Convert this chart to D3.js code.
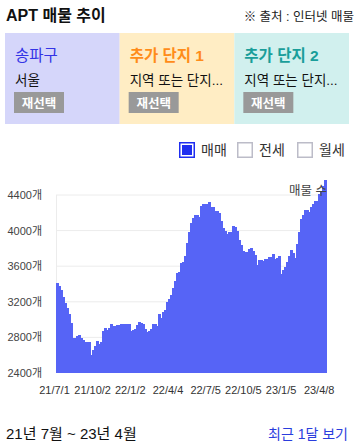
<!DOCTYPE html>
<html><head><meta charset="utf-8">
<script src="https://cdn.jsdelivr.net/npm/d3@7"></script>
<style>
body{margin:0;background:#fff;font-family:"Liberation Sans","Noto Sans CJK KR",sans-serif;}
svg{display:block;}
</style></head>
<body>
<svg id="c" width="358" height="447"></svg>
<script>
// ---- data ----
const startDate = new Date(2021, 6, 1);
const endDate = new Date(2023, 3, 21);
const listingCounts = [
 3410,3377,3330,3250,3190,3130,3068,2960,2788,2796,2815,2830,2796,2770,2750,2750,2750,2601,2657,2700,
 2760,2730,2750,2870,2911,2886,2911,2950,2930,2930,2940,2940,2945,2950,2945,2950,2945,2873,2880,2900,
 2940,2974,2960,2951,2895,2858,2873,2900,2950,2950,2930,3060,3023,3086,3113,3198,3235,3280,3354,3430,
 3518,3540,3633,3650,3718,3860,3980,4090,4143,4180,4180,4158,4280,4302,4302,4302,4325,4262,4262,4224,
 4224,4194,4105,4030,4000,3963,3986,3986,4053,4045,4000,3896,3843,3769,3760,3758,3790,3806,3770,3731,
 3608,3665,3672,3657,3683,3683,3702,3702,3732,3683,3694,3709,3515,3560,3590,3646,3720,3784,3746,3694,
 3850,3989,4131,4180,4232,4232,4206,4269,4299,4329,4329,4411,4448,4504,4571
];
const yTicks = [2400, 2800, 3200, 3600, 4000, 4400];
const xTickDates = [
 new Date(2021,6,1), new Date(2021,9,2), new Date(2022,0,2), new Date(2022,3,4),
 new Date(2022,6,5), new Date(2022,9,5), new Date(2023,0,5), new Date(2023,3,8)
];
const panelTitles = ["송파구", "추가 단지 1", "추가 단지 2"];
const panelSubs = ["서울", "지역 또는 단지...", "지역 또는 단지..."];
const panelFills = ["#d5d6fa", "#ffedc4", "#d1f0ee"];
const panelTitleColors = ["#3434e6", "#ff8c1a", "#1a9e9a"];
const legendLabels = ["매매", "전세", "월세"];

// ---- derived dates ----
const stepMs = (endDate - startDate) / listingCounts.length;
const data = listingCounts.map((v, i) => ({ d0: new Date(+startDate + i * stepMs), d1: new Date(+startDate + (i + 1) * stepMs), v }));

const svg = d3.select("#c");
const font = '"Liberation Sans","Noto Sans CJK KR",sans-serif';

// header
svg.append("text").attr("x", 6).attr("y", 21).attr("font-size", 16).attr("font-weight", "bold")
  .attr("fill", "#111").attr("font-family", font).text("APT 매물 추이");
svg.append("text").attr("x", 354).attr("y", 21).attr("text-anchor", "end").attr("font-size", 12.5)
  .attr("fill", "#222").attr("font-family", font).text("※ 출처 : 인터넷 매물");

// panels
const px = d3.scaleBand().domain(d3.range(3)).range([5, 349]);
const pg = svg.selectAll("g.panel").data(panelTitles).enter().append("g")
  .attr("transform", (d, i) => `translate(${px(i)},33)`);
pg.append("rect").attr("width", px.bandwidth()).attr("height", 91).attr("fill", (d, i) => panelFills[i]);
pg.append("text").attr("x", 10).attr("y", 28).attr("font-size", 15.5).attr("font-family", font)
  .attr("font-weight", (d, i) => i ? "bold" : "normal")
  .attr("fill", (d, i) => panelTitleColors[i]).text(d => d);
pg.append("text").attr("x", 10).attr("y", 52).attr("font-size", 13.5).attr("font-family", font)
  .attr("fill", "#111").text((d, i) => panelSubs[i]);
pg.append("rect").attr("x", 9).attr("y", 59).attr("width", 50).attr("height", 21).attr("fill", "#999");
pg.append("text").attr("x", 34).attr("y", 74.5).attr("text-anchor", "middle").attr("font-size", 12.5)
  .attr("font-weight", "bold").attr("font-family", font).attr("fill", "#fff").text("재선택");

// legend
const lx = [179, 237, 297];
const lg = svg.selectAll("g.leg").data(legendLabels).enter().append("g")
  .attr("transform", (d, i) => `translate(${lx[i]},142)`);
lg.append("rect").attr("x", 0.75).attr("y", 0.75).attr("width", 14.5).attr("height", 14.5)
  .attr("fill", "#fff").attr("stroke", (d, i) => i ? "#bcbcc8" : "#1f2ef0").attr("stroke-width", 1.5);
lg.filter((d, i) => i === 0).append("rect").attr("x", 3).attr("y", 3).attr("width", 10).attr("height", 10).attr("fill", "#1f2ef0");
lg.append("text").attr("x", 22).attr("y", 13).attr("font-size", 14).attr("font-family", font)
  .attr("fill", "#333").text(d => d);

// chart
const x = d3.scaleTime().domain([startDate, endDate]).range([56, 326]);
const y = d3.scaleLinear().domain([2400, 4400]).range([373, 195]);

svg.append("g").selectAll("line").data(yTicks.slice(1)).enter().append("line")
  .attr("x1", 56).attr("x2", 326).attr("y1", d => y(d)).attr("y2", d => y(d))
  .attr("stroke", "#ececec").attr("stroke-width", 1);
svg.append("line").attr("x1", 56.5).attr("x2", 56.5).attr("y1", y(4400)).attr("y2", 373)
  .attr("stroke", "#ececec");

svg.append("g").selectAll("rect").data(data).enter().append("rect")
  .attr("x", d => x(d.d0)).attr("width", d => x(d.d1) - x(d.d0) + 0.5)
  .attr("y", d => y(d.v)).attr("height", d => y(2400) - y(d.v))
  .attr("fill", "#5664f6").attr("shape-rendering", "crispEdges");

const yAxis = svg.append("g").attr("transform", "translate(42,0)")
  .call(d3.axisLeft(y).tickValues(yTicks).tickSize(0).tickPadding(0).tickFormat(d => d + "개"));
yAxis.select(".domain").remove();
yAxis.selectAll("text").attr("font-size", 11).attr("font-family", font).attr("fill", "#444");

const xAxis = svg.append("g").attr("transform", "translate(-2,382)")
  .call(d3.axisBottom(x).tickValues(xTickDates).tickSize(0).tickPadding(4).tickFormat(d3.timeFormat("%y/%-m/%-d")));
xAxis.select(".domain").remove();
xAxis.selectAll("text").attr("font-size", 11).attr("font-family", font).attr("fill", "#333");

svg.append("text").attr("x", 327).attr("y", 195).attr("text-anchor", "end").attr("font-size", 12.5)
  .attr("font-family", font).attr("fill", "#444").text("매물 수");

// footer
svg.append("text").attr("x", 6).attr("y", 439).attr("font-size", 15).attr("font-family", font)
  .attr("fill", "#111").text("21년 7월 ~ 23년 4월");
svg.append("text").attr("x", 348).attr("y", 439).attr("text-anchor", "end").attr("font-size", 14)
  .attr("font-family", font).attr("fill", "#2a3ddd").text("최근 1달 보기");
</script>
</body></html>
